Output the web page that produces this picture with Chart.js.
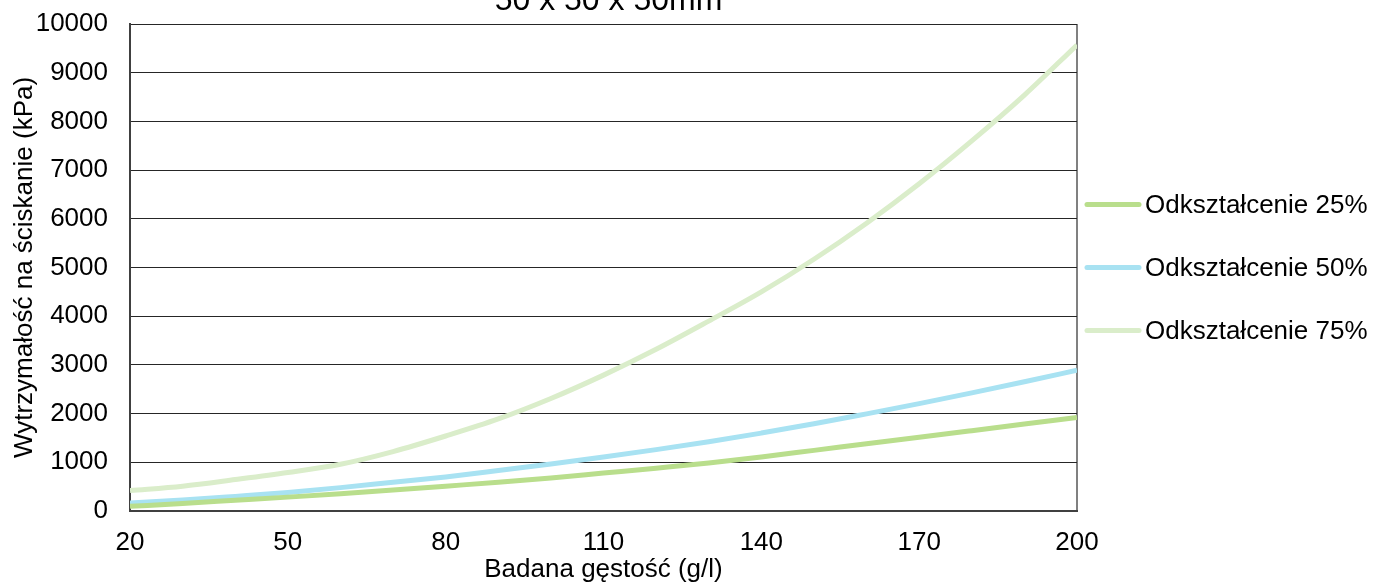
<!DOCTYPE html>
<html>
<head>
<meta charset="utf-8">
<script src="https://cdn.jsdelivr.net/npm/chart.js@4"></script>
<style>
  body { margin: 0; background: #fff; }
  #wrap { width: 1374px; height: 583px; position: relative; }
</style>
</head>
<body>
<div id="wrap"><canvas id="chart"></canvas></div>
<script>
// values
const chartTitle = '50 x 50 x 50mm';
const densities = [20, 30, 40, 50, 60, 70, 80, 90, 100, 110, 120, 130, 140, 150, 160, 170, 180, 190, 200];
const strain25 = [95, 155, 220, 285, 355, 430, 510, 590, 680, 780, 880, 985, 1110, 1245, 1380, 1515, 1650, 1785, 1920];
const strain50 = [165, 225, 300, 380, 480, 590, 700, 830, 965, 1110, 1260, 1420, 1600, 1790, 1995, 2205, 2425, 2655, 2890];
const strain75 = [420, 510, 645, 790, 960, 1220, 1540, 1890, 2310, 2790, 3320, 3900, 4500, 5170, 5910, 6720, 7600, 8540, 9570];
const seriesLabels = ['Odkształcenie 25%', 'Odkształcenie 50%', 'Odkształcenie 75%'];
const seriesColors = ['#b9de8c', '#a8e2f2', '#daedca'];

const FONT = '"Liberation Sans", Arial, sans-serif';

const toPoints = (ys) => densities.map((x, i) => ({ x: x, y: ys[i] }));

// title sits half off the top edge, like the original
const titlePlugin = {
  id: 'topTitle',
  afterDraw(chart) {
    const { ctx, chartArea } = chart;
    ctx.save();
    ctx.font = '32px ' + FONT;
    ctx.fillStyle = '#000';
    ctx.textAlign = 'center';
    ctx.textBaseline = 'alphabetic';
    ctx.fillText(chartTitle, (chartArea.left + chartArea.right) / 2 + 5, 10);
    ctx.restore();
  }
};

// legend on the right: short thick line + label
const legendPlugin = {
  id: 'sideLegend',
  afterDraw(chart) {
    const { ctx, chartArea } = chart;
    const midY = (chartArea.top + chartArea.bottom) / 2;
    const gap = 63;
    ctx.save();
    chart.data.datasets.forEach((ds, i) => {
      const y = midY + (i - 1) * gap;
      const x0 = chartArea.right + 10;
      ctx.strokeStyle = ds.borderColor;
      ctx.lineWidth = 5;
      ctx.lineCap = 'round';
      ctx.beginPath();
      ctx.moveTo(x0, y);
      ctx.lineTo(x0 + 52, y);
      ctx.stroke();
      ctx.font = '26px ' + FONT;
      ctx.fillStyle = '#000';
      ctx.textAlign = 'left';
      ctx.textBaseline = 'middle';
      ctx.fillText(ds.label, x0 + 58, y + 1);
    });
    ctx.restore();
  }
};

new Chart(document.getElementById('chart'), {
  type: 'line',
  data: {
    datasets: [
      { label: seriesLabels[0], data: toPoints(strain25), borderColor: seriesColors[0] },
      { label: seriesLabels[1], data: toPoints(strain50), borderColor: seriesColors[1] },
      { label: seriesLabels[2], data: toPoints(strain75), borderColor: seriesColors[2] }
    ]
  },
  options: {
    responsive: true,
    maintainAspectRatio: false,
    animation: false,
    layout: { padding: { left: 0, right: 297, top: 24, bottom: 0 } },
    elements: {
      line: { borderWidth: 5, cubicInterpolationMode: 'monotone', fill: false },
      point: { radius: 0 }
    },
    plugins: {
      legend: { display: false },
      tooltip: { enabled: false },
      title: { display: false }
    },
    scales: {
      x: {
        type: 'linear',
        min: 20,
        max: 200,
        ticks: { stepSize: 30, padding: 16, color: '#000', font: { size: 26, family: FONT } },
        grid: {
          drawTicks: false,
          color: (c) => (c.tick && c.tick.value === 200 ? '#808080' : 'rgba(0,0,0,0)'),
          lineWidth: 2
        },
        border: { color: '#404040', width: 2 },
        title: {
          display: true,
          text: 'Badana gęstość (g/l)',
          color: '#000',
          font: { size: 26, family: FONT, lineHeight: 1 },
          padding: { top: 0, bottom: 0 }
        },
        afterFit(scale) {
          scale.height = 72;
          scale.paddingLeft = 0;
          scale.paddingRight = 0;
        }
      },
      y: {
        min: 0,
        max: 10000,
        ticks: {
          stepSize: 1000,
          padding: 22,
          color: '#000',
          font: { size: 26, family: FONT },
          callback: (v) => String(v)
        },
        grid: { drawTicks: false, color: '#262626', lineWidth: 1 },
        border: { color: '#404040', width: 2 },
        title: {
          display: true,
          text: 'Wytrzymałość na ściskanie (kPa)',
          color: '#000',
          font: { size: 26, family: FONT, lineHeight: 1 },
          padding: { top: 12, bottom: 12 }
        },
        afterFit(scale) {
          scale.width = 130;
          scale.paddingTop = 0;
          scale.paddingBottom = 0;
        }
      }
    }
  },
  plugins: [titlePlugin, legendPlugin]
});
</script>
</body>
</html>
